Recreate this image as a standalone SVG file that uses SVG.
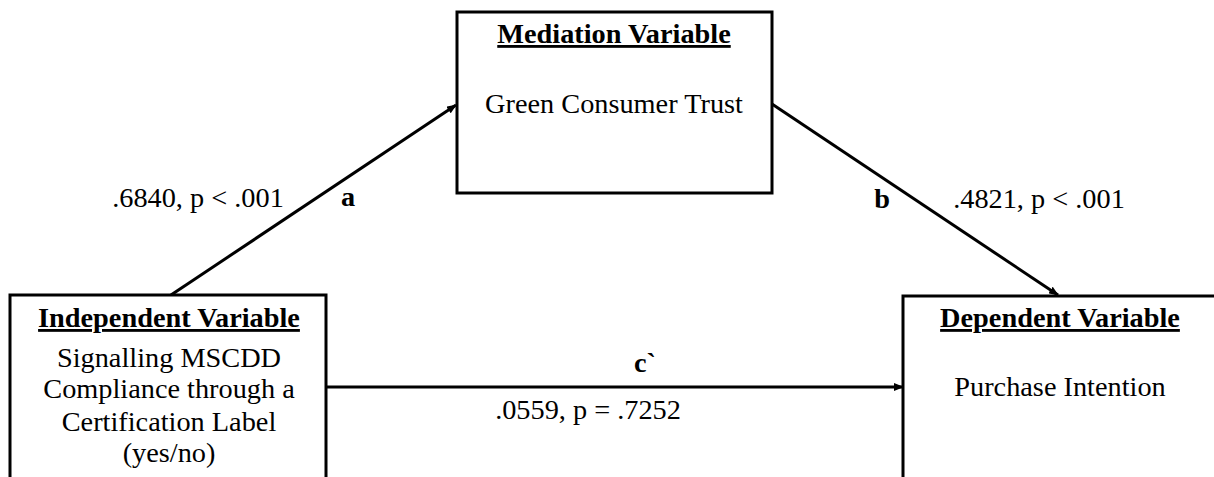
<svg xmlns="http://www.w3.org/2000/svg" width="1214" height="477" viewBox="0 0 1214 477">
<style>
.box{fill:#fff;stroke:#000;stroke-width:3}
.t{font-family:"Liberation Serif","Times New Roman",serif;font-size:28.3px;fill:#000;text-anchor:middle}
.h{font-weight:bold;text-decoration:underline;text-decoration-thickness:3px;text-underline-offset:4px}
.b{font-weight:bold}
.c{stroke:#000;stroke-width:3;fill:none}
</style>
<defs>
<marker id="ah" markerWidth="10" markerHeight="8" refX="9" refY="4" orient="auto" markerUnits="userSpaceOnUse">
<path d="M0,0 L10,4 L0,8 Z" fill="#000"/>
</marker>
</defs>
<g id="connectors">
<line class="c" x1="171" y1="295" x2="456" y2="105" marker-end="url(#ah)"/>
<line class="c" x1="772" y1="104" x2="1058" y2="295" marker-end="url(#ah)"/>
<line class="c" x1="326" y1="387" x2="903" y2="387" marker-end="url(#ah)"/>
<text class="t" x="198" y="207">.6840, p &lt; .001</text>
<text class="t b" x="348" y="206">a</text>
<text class="t b" x="882" y="208">b</text>
<text class="t" x="1039" y="208">.4821, p &lt; .001</text>
<text class="t b" x="645" y="372">c`</text>
<text class="t" x="588" y="419">.0559, p = .7252</text>
</g>
<g id="mediator">
<rect class="box" x="457" y="12" width="315" height="181"/>
<text class="t h" x="614" y="43">Mediation Variable</text>
<text class="t" x="614" y="113">Green Consumer Trust</text>
</g>
<g id="independent">
<rect class="box" x="10" y="295" width="316" height="200"/>
<text class="t h" x="169" y="327">Independent Variable</text>
<text class="t" x="169" y="367">Signalling MSCDD</text>
<text class="t" x="169" y="398">Compliance through a</text>
<text class="t" x="169" y="431">Certification Label</text>
<text class="t" x="169" y="462">(yes/no)</text>
</g>
<g id="dependent">
<rect class="box" x="903" y="296" width="330" height="200"/>
<text class="t h" x="1060" y="327">Dependent Variable</text>
<text class="t" x="1060" y="396">Purchase Intention</text>
</g>
</svg>
